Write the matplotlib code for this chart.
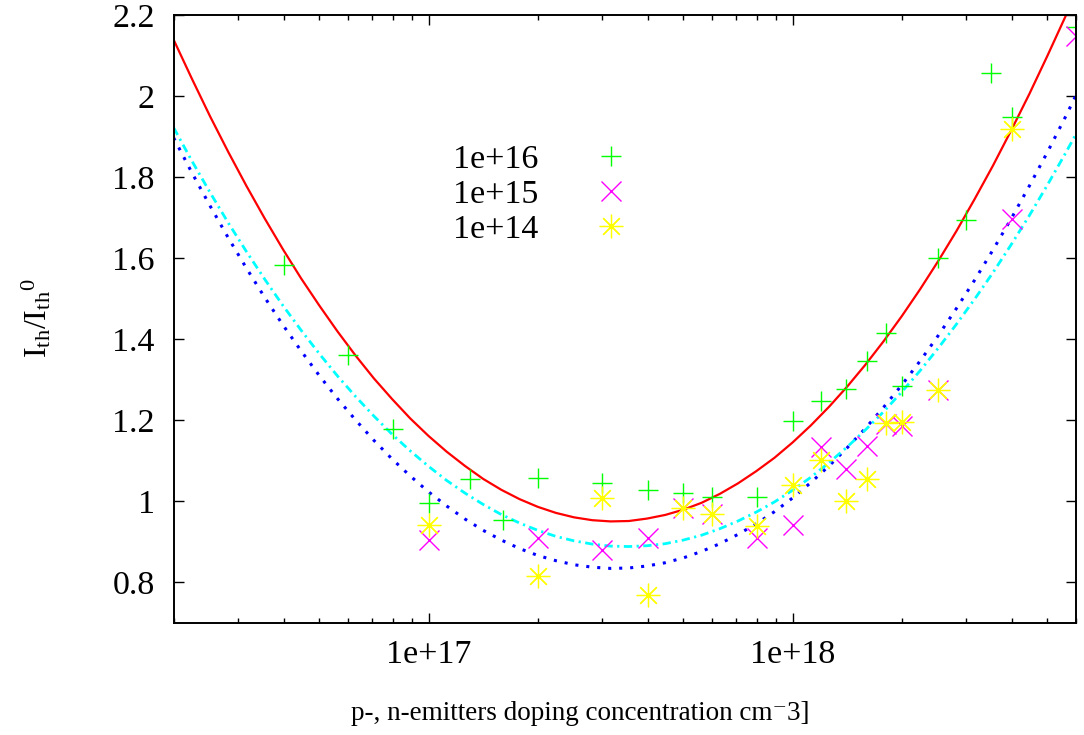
import matplotlib
matplotlib.use('Agg')
import matplotlib.pyplot as plt
from matplotlib.ticker import LogLocator, NullFormatter
import numpy as np

plt.rcParams['font.family'] = ['Liberation Serif', 'DejaVu Serif']
plt.rcParams['mathtext.fontset'] = 'custom'
plt.rcParams['mathtext.rm'] = 'Liberation Serif'
plt.rcParams['mathtext.it'] = 'Liberation Serif:italic'

# measured points, doping in cm^-3
green_n = [4e16, 6e16, 8e16, 1e17, 1.3e17, 1.6e17, 2e17, 3e17, 4e17, 5e17, 6e17, 8e17,
           1e18, 1.2e18, 1.4e18, 1.6e18, 1.8e18, 2e18, 2.5e18, 3e18, 3.5e18, 4e18, 6e18]
green_i = [1.582, 1.362, 1.178, 0.995, 1.054, 0.954, 1.057, 1.046, 1.027, 1.019, 1.011, 1.011,
           1.197, 1.246, 1.278, 1.347, 1.414, 1.284, 1.599, 1.694, 2.057, 1.948, 2.17]

magenta_n = [1e17, 2e17, 3e17, 4e17, 5e17, 6e17, 8e17, 1e18, 1.2e18, 1.4e18, 1.6e18,
             1.8e18, 2e18, 2.5e18, 4e18, 6e18]
magenta_i = [0.904, 0.908, 0.880, 0.908, 0.984, 0.968, 0.908, 0.942, 1.134, 1.079, 1.136,
             1.19, 1.185, 1.274, 1.697, 2.148]

yellow_n = [1e17, 2e17, 3e17, 4e17, 5e17, 6e17, 8e17, 1e18, 1.2e18, 1.4e18, 1.6e18,
            1.8e18, 2e18, 2.5e18, 4e18]
yellow_i = [0.942, 0.816, 1.007, 0.769, 0.984, 0.968, 0.939, 1.040, 1.101, 1.001, 1.054,
            1.192, 1.196, 1.274, 1.919]

labels = ['1e+16', '1e+15', '1e+14']

# fitted curves: log10(doping) vs Ith/Ith0
curve_logn = [16.30, 16.35, 16.40, 16.45, 16.50, 16.55, 16.60, 16.65, 16.70, 16.75,
              16.80, 16.85, 16.90, 16.95, 17.00, 17.05, 17.10, 17.15, 17.20, 17.25,
              17.30, 17.35, 17.40, 17.45, 17.50, 17.55, 17.60, 17.65, 17.70, 17.75,
              17.80, 17.85, 17.90, 17.95, 18.00, 18.05, 18.10, 18.15, 18.20, 18.25,
              18.30, 18.35, 18.40, 18.45, 18.50, 18.55, 18.60, 18.65, 18.70, 18.75, 18.80]
red_curve = [2.139, 2.043, 1.950, 1.862, 1.778, 1.698, 1.622, 1.550, 1.483, 1.419,
             1.359, 1.303, 1.252, 1.204, 1.161, 1.122, 1.087, 1.055, 1.028, 1.005,
             0.986, 0.971, 0.960, 0.953, 0.950, 0.951, 0.957, 0.966, 0.979, 0.996,
             1.018, 1.044, 1.074, 1.107, 1.145, 1.187, 1.233, 1.283, 1.337, 1.395,
             1.457, 1.523, 1.593, 1.667, 1.746, 1.828, 1.915, 2.005, 2.100, 2.198, 2.301]
blue_curve = [1.897, 1.811, 1.729, 1.650, 1.575, 1.503, 1.435, 1.371, 1.310, 1.253,
              1.200, 1.150, 1.104, 1.062, 1.023, 0.988, 0.956, 0.928, 0.904, 0.883,
              0.866, 0.853, 0.843, 0.837, 0.834, 0.835, 0.840, 0.848, 0.860, 0.876,
              0.895, 0.918, 0.944, 0.974, 1.008, 1.046, 1.087, 1.132, 1.180, 1.232,
              1.287, 1.346, 1.409, 1.476, 1.546, 1.620, 1.697, 1.778, 1.862, 1.950, 2.042]
cyan_curve = [1.922, 1.840, 1.762, 1.687, 1.616, 1.548, 1.483, 1.422, 1.364, 1.309,
              1.258, 1.210, 1.165, 1.124, 1.086, 1.051, 1.020, 0.992, 0.967, 0.946,
              0.928, 0.913, 0.902, 0.894, 0.889, 0.888, 0.890, 0.895, 0.904, 0.916,
              0.932, 0.951, 0.973, 0.998, 1.027, 1.059, 1.095, 1.134, 1.176, 1.221,
              1.270, 1.322, 1.378, 1.437, 1.499, 1.564, 1.633, 1.705, 1.781, 1.860, 1.942]

curve_n = 10.0 ** np.array(curve_logn)

fig = plt.figure(figsize=(10.84, 7.35), dpi=100)
ax = fig.add_axes([174/1084, 1 - 622.7/735, 902/1084, 607.7/735])

ax.plot(curve_n, red_curve, color='#ff0000', lw=1.6)
ax.plot(curve_n, blue_curve, color='#0000ff', lw=2.2, linestyle=(0, (1.0, 2.6)))
ax.plot(curve_n, cyan_curve, color='#00ffff', lw=2.0, linestyle=(0, (3.0, 1.6, 0.8, 1.6)))

ax.plot(green_n, green_i, linestyle='none', marker='+', ms=14, mew=1.0,
        color='#00ff00', label=labels[0])
ax.plot(magenta_n, magenta_i, linestyle='none', marker='x', ms=14, mew=1.0,
        color='#ff00ff', label=labels[1])
ax.plot(yellow_n, yellow_i, linestyle='none', marker=(8, 2, 0), ms=17, mew=0.9,
        color='#ffff00', label=labels[2])

ax.set_xscale('log')
ax.set_xlim(2e16, 6e18)
ax.set_ylim(0.7, 2.2)

ax.set_xticks([1e17, 1e18], labels=['1e+17', '1e+18'])
ax.xaxis.set_minor_locator(LogLocator(base=10, subs=np.arange(2, 10)))
ax.xaxis.set_minor_formatter(NullFormatter())
yt = [0.8, 1.0, 1.2, 1.4, 1.6, 1.8, 2.0, 2.2]
ax.set_yticks(yt, labels=['%g' % v for v in yt])

ax.tick_params(which='both', direction='in', top=True, right=True, labelsize=24.5, width=1.0)
ax.tick_params(which='major', length=7)
ax.tick_params(which='minor', length=3.6)
ax.tick_params(axis='y', pad=14)
ax.tick_params(axis='x', pad=12)
for s in ax.spines.values():
    s.set_linewidth(1.4)

fig.text(37/1084, 1 - 318/735, r'$\mathrm{I_{th}/I_{th}{}^{0}}$', rotation=90,
         ha='center', va='center', fontsize=23)
fig.text(580.5/1084, 1 - 713/735, 'p-, n-emitters doping concentration cm\u207b3]',
         ha='center', va='center', fontsize=19.5)

ax.legend(loc='upper left', bbox_to_anchor=(0.29, 0.815), frameon=False, markerfirst=False,
          fontsize=24.5, handlelength=3.3, handletextpad=0.5, labelspacing=0.12,
          borderpad=0, numpoints=1)

fig.savefig('out.png', dpi=100)
